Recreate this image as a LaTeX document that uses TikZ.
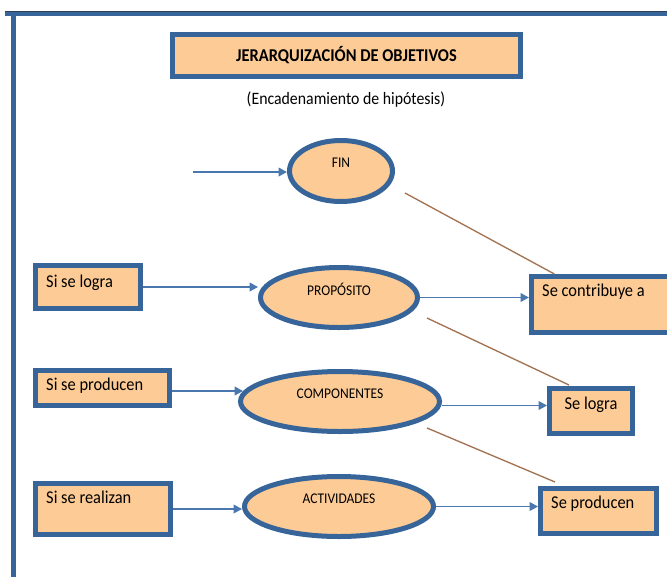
\documentclass[tikz,border=0pt]{standalone}
\usepackage{graphicx}
\usepackage{fontspec}
\setmainfont{Carlito}
\usetikzlibrary{arrows.meta,shapes.geometric,calc}

\definecolor{peach}{HTML}{FDCB95}
\definecolor{edgeblue}{HTML}{37659A}
\definecolor{flowblue}{HTML}{4A78AE}
\definecolor{linkbrown}{HTML}{A27352}
\definecolor{framedark}{HTML}{2E3F58}

% the printed words are a little taller than the font
\newcommand{\tallword}[1]{\scalebox{1}[1.1]{#1}}

\tikzset{
    box/.style={draw=edgeblue, fill=peach, line width=0.15cm, inner sep=0pt},
    goal/.style={draw=edgeblue, fill=peach, line width=0.15cm, ellipse, inner sep=0pt},
    boxword/.style={anchor=west, inner sep=0pt, text height=1.7ex, text depth=0.4ex,
        font=\fontsize{14}{16}\selectfont},
    goalword/.style={inner sep=0pt, font=\fontsize{11.5}{13}\selectfont},
    flow/.style={draw=flowblue, line width=0.045cm, -{Triangle[length=0.25cm, width=0.26cm]}},
    link/.style={draw=linkbrown, line width=0.04cm}
}

\begin{document}
\begin{tikzpicture}[x=0.03cm, y=-0.03cm]
        \useasboundingbox (0,0) rectangle (667,576);

        % The frame
        \draw[edgeblue, line width=0.15cm] (13.5,11) -- (13.5,580);
        \draw[edgeblue, line width=0.15cm] (5,13.5) -- (670,13.5);
        \draw[framedark, line width=0.04cm] (5,11.6) -- (670,11.6);

        % The top box
        \node[box, minimum width=10.44cm, minimum height=1.26cm,
            font=\bfseries\fontsize{14}{16}\selectfont] (title) at (346.5,55.5)
            {\tallword{JERARQUIZACIÓN DE OBJETIVOS}};
        \node[font=\fontsize{13.5}{16}\selectfont] (subtitle) at (346,100)
            {\tallword{(Encadenamiento de hipótesis)}};

        % Middle ellipses
        \node[goal, minimum width=3.09cm, minimum height=1.83cm] (fin) at (341,171) {};
        \node[goal, minimum width=4.71cm, minimum height=1.80cm] (proposito) at (339,297.5) {};
        \node[goal, minimum width=5.97cm, minimum height=1.80cm] (componentes) at (340,401.5) {};
        \node[goal, minimum width=5.67cm, minimum height=1.80cm] (actividades) at (339,506.5) {};

        \node[goalword] (finWord) at (341,163) {\tallword{FIN}};
        \node[goalword] (propositoWord) at (339,289) {\tallword{PROPÓSITO}};
        \node[goalword] (componentesWord) at (340,394) {\tallword{COMPONENTES}};
        \node[goalword] (actividadesWord) at (339,499) {\tallword{ACTIVIDADES}};

        % Left boxes
        \node[box, minimum width=3.15cm, minimum height=1.29cm] (siLogra) at (88,287) {};
        \node[box, minimum width=4.02cm, minimum height=1.05cm] (siProducen) at (102.5,388) {};
        \node[box, minimum width=4.05cm, minimum height=1.53cm] (siRealizan) at (103,509) {};

        \node[boxword] (siLograWord) at (46,284) {\tallword{Si se logra}};
        \node[boxword] (siProducenWord) at (46,387) {\tallword{Si se producen}};
        \node[boxword] (siRealizanWord) at (46,500) {\tallword{Si se realizan}};

        % Right boxes
        \node[box, minimum width=4.76cm, minimum height=1.68cm] (contribuye) at (610.75,304.5) {};
        \node[box, minimum width=2.49cm, minimum height=1.35cm] (seLogra) at (591,411) {};
        \node[box, minimum width=3.48cm, minimum height=1.35cm] (seProducen) at (598.5,511) {};

        \node[boxword] (contribuyeWord) at (542,293) {\tallword{Se contribuye a}};
        \node[boxword, anchor=center] (seLograWord) at (591,406) {\tallword{Se logra}};
        \node[boxword] (seProducenWord) at (551,505) {\tallword{Se producen}};

        % Arrows
        \coordinate (finIn) at (193,172);
        \draw[flow] (finIn) -- (finIn -| fin.west);
        \draw[flow] (siLogra.east) -- (proposito.west |- siLogra.east);
        \draw[flow] (proposito.east) -- (proposito.east -| contribuye.west);
        \draw[flow, shorten >=-0.15cm] ([yshift=-0.09cm]siProducen.east)
            -- ([yshift=-0.09cm]componentes.west |- siProducen.east);
        \draw[flow] ([yshift=-0.12cm]componentes.east)
            -- ([yshift=-0.12cm]componentes.east -| seLogra.west);
        \draw[flow] (siRealizan.east) -- (actividades.west |- siRealizan.east);
        \draw[flow] (actividades.east) -- (actividades.east -| seProducen.west);

        % The links
        \coordinate (finLink) at (405,193);
        \coordinate (propositoLink) at (427,318);
        \coordinate (componentesLink) at (427,428);
        \draw[link] (finLink) -- ($(contribuye.north west)+(25.5,0)$);
        \draw[link] (propositoLink) -- ($(seLogra.north west)+(22,-1)$);
        \draw[link] (componentesLink) -- ($(seProducen.north west)+(17,-4)$);

    \end{tikzpicture}
\end{document}
